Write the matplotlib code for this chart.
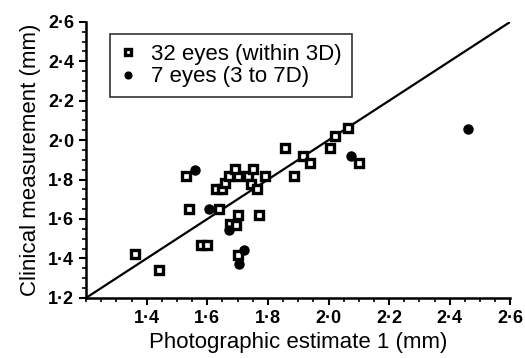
import matplotlib
matplotlib.use('Agg')
import matplotlib.pyplot as plt
from matplotlib.ticker import MultipleLocator, FuncFormatter

plt.rcParams['font.family'] = ['Liberation Sans', 'DejaVu Sans']

# 32 eyes (within 3D) - photographic estimate vs clinical measurement
sq_x = [1.36, 1.44, 1.53, 1.54, 1.58, 1.60, 1.63, 1.65, 1.64, 1.66, 1.67,
        1.70, 1.69, 1.735, 1.75, 1.79, 1.745, 1.765, 1.70, 1.675, 1.695,
        1.77, 1.70, 1.855, 1.885, 1.915, 1.94, 2.005, 2.02, 2.065, 2.10]
sq_y = [1.42, 1.34, 1.82, 1.65, 1.47, 1.47, 1.75, 1.75, 1.65, 1.785, 1.82,
        1.82, 1.855, 1.82, 1.855, 1.82, 1.78, 1.75, 1.62, 1.575, 1.57,
        1.62, 1.415, 1.96, 1.82, 1.92, 1.885, 1.96, 2.02, 2.06, 1.885]

# 7 eyes (3 to 7D)
ci_x = [1.56, 1.605, 1.67, 1.72, 1.705, 2.075, 2.46]
ci_y = [1.85, 1.65, 1.545, 1.445, 1.37, 1.92, 2.055]

line_x = [1.2, 2.6]

fig = plt.figure(figsize=(5.25, 3.58), dpi=100)
ax = fig.add_axes([0.164, 0.168, 0.808, 0.771])

ax.plot(line_x, line_x, color='black', lw=1.6, zorder=1)
ax.plot(sq_x, sq_y, ls='none', marker='s', ms=5.5, mfc='white', mec='black',
        mew=2.4, label='32 eyes (within 3D)', zorder=3)
ax.plot(ci_x, ci_y, ls='none', marker='o', ms=6.5, color='black',
        label='7 eyes (3 to 7D)', zorder=3)

ax.set_xlim(1.2, 2.6)
ax.set_ylim(1.2, 2.6)
ax.xaxis.set_major_locator(MultipleLocator(0.2))
ax.yaxis.set_major_locator(MultipleLocator(0.2))
ax.xaxis.set_minor_locator(MultipleLocator(0.05))
ax.yaxis.set_minor_locator(MultipleLocator(0.05))
fmt = FuncFormatter(lambda v, p: '{:.1f}'.format(v).replace('.', '\u00b7'))
ax.xaxis.set_major_formatter(fmt)
ax.yaxis.set_major_formatter(fmt)
# first x label (1.2) is not shown
ax.set_xticks([1.4, 1.6, 1.8, 2.0, 2.2, 2.4, 2.6])

for s in ['top', 'right']:
    ax.spines[s].set_visible(False)
for s in ['left', 'bottom']:
    ax.spines[s].set_linewidth(1.8)

ax.tick_params(which='major', length=5, width=1.5, labelsize=13)
ax.tick_params(which='minor', length=3, width=1.2)
for lab in ax.get_xticklabels() + ax.get_yticklabels():
    lab.set_fontweight('bold')

ax.set_xlabel('Photographic estimate 1 (mm)', fontsize=16, labelpad=4)
ax.set_ylabel('Clinical measurement (mm)', fontsize=16, labelpad=5)

leg = ax.legend(loc='upper left', bbox_to_anchor=(0.056, 0.955), fontsize=16,
                frameon=True, fancybox=False, edgecolor='black',
                handlelength=0.7, handletextpad=0.7, borderpad=0.45,
                labelspacing=0.05, borderaxespad=0, markerscale=0.75)
leg.get_frame().set_linewidth(1.2)

fig.savefig('out.png', dpi=100)
